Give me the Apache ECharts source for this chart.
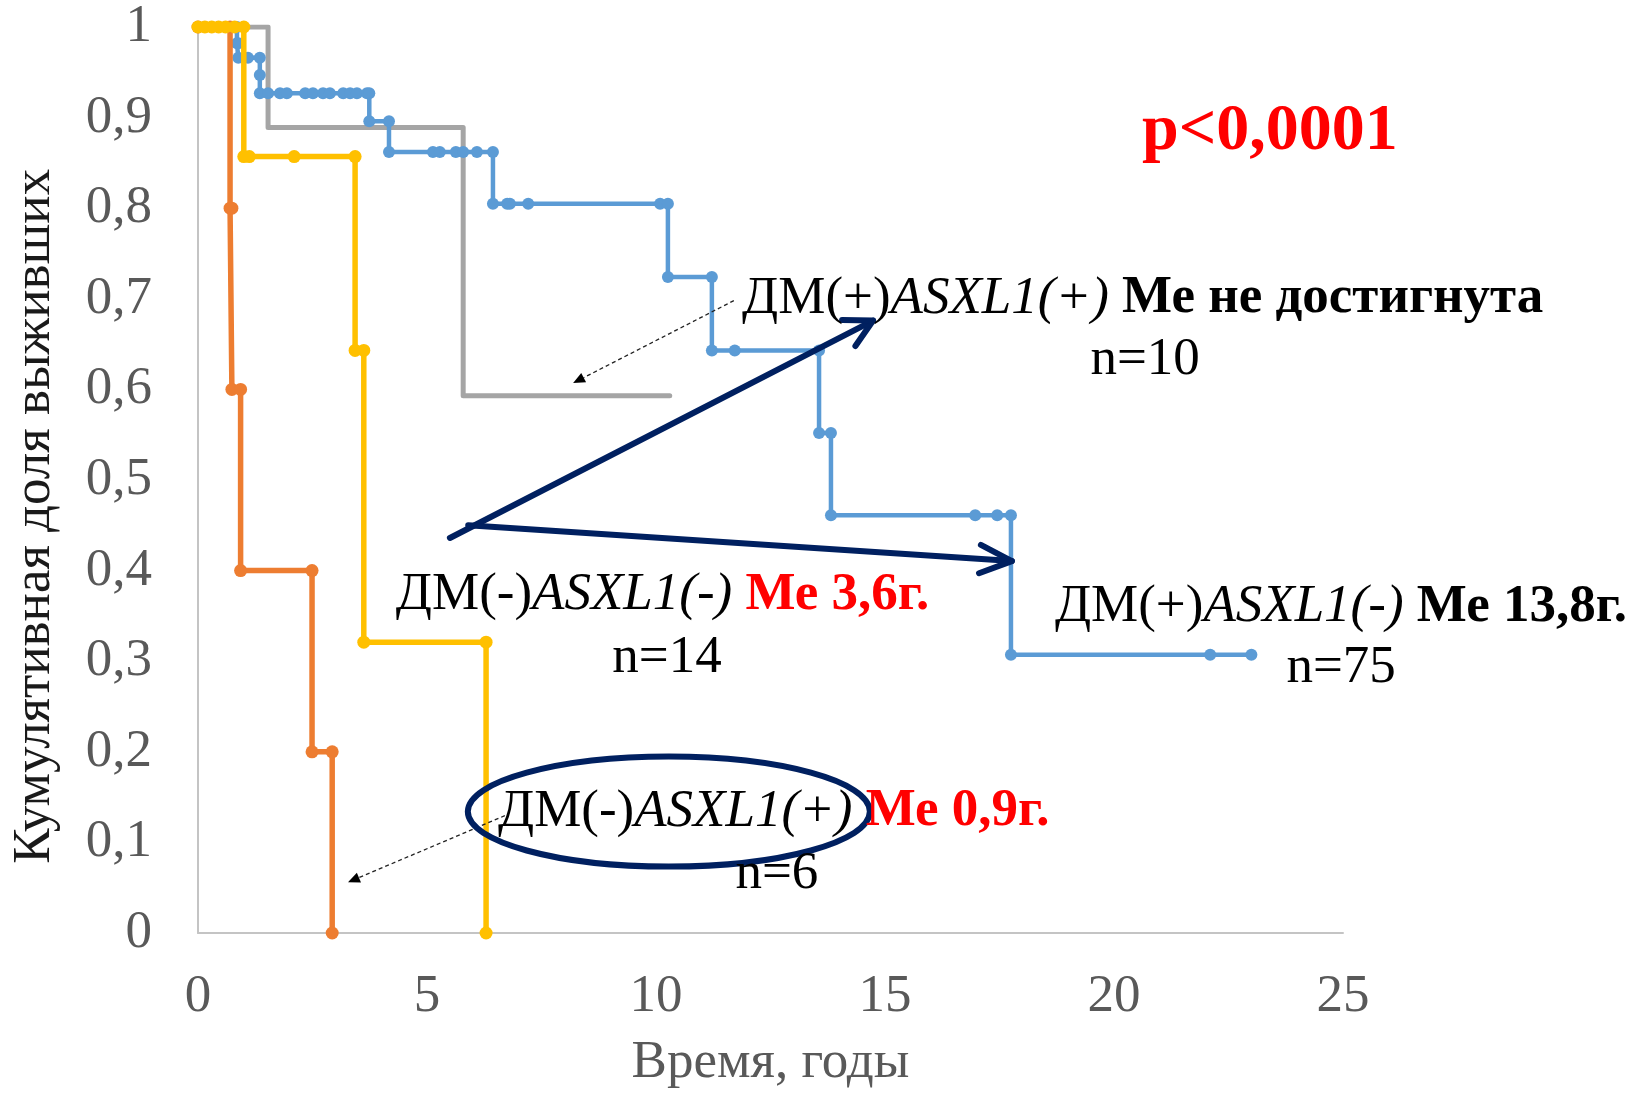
<!DOCTYPE html>
<html>
<head>
<meta charset="utf-8">
<script src="https://cdn.jsdelivr.net/npm/echarts@6/dist/echarts.min.js"></script>
<style>
  html, body { margin: 0; padding: 0; background: #ffffff; }
  #chart { width: 1644px; height: 1095px; }
</style>
</head>
<body>
<div id="chart"></div>
<script>
// Kaplan–Meier step curves: time in years, cumulative survival proportion.
// ДМ(+)ASXL1(+), n=10
const grayT = [0, 1.53, 1.53, 5.79, 5.79, 10.3];
const grayS = [1, 1, 0.889, 0.889, 0.593, 0.593];

// ДМ(+)ASXL1(-), n=75
const blueT = [0, 0.85, 0.85, 0.88, 0.88, 1.09, 1.35, 1.35, 1.35,
  1.53, 1.79, 1.94, 2.34, 2.51, 2.73, 2.88, 3.17, 3.32, 3.47, 3.69, 3.74,
  3.74, 4.17, 4.17, 5.13, 5.28, 5.63, 5.79, 6.09, 6.44,
  6.44, 6.75, 6.81, 7.21, 10.09, 10.26,
  10.26, 11.22, 11.22, 11.72, 13.56, 13.56, 13.82, 13.82, 16.97, 17.45, 17.75,
  17.75, 22.1, 23.0];
const blueS = [1, 1, 0.982, 0.982, 0.966, 0.966, 0.966, 0.947, 0.927,
  0.927, 0.927, 0.927, 0.927, 0.927, 0.927, 0.927, 0.927, 0.927, 0.927, 0.927, 0.927,
  0.896, 0.896, 0.862, 0.862, 0.862, 0.862, 0.862, 0.862, 0.862,
  0.805, 0.805, 0.805, 0.805, 0.805, 0.805,
  0.724, 0.724, 0.643, 0.643, 0.643, 0.552, 0.552, 0.461, 0.461, 0.461, 0.461,
  0.307, 0.307, 0.307];

// ДМ(-)ASXL1(+), n=6
const orangeT = [0, 0.70, 0.70, 0.74, 0.74, 0.93, 0.93, 2.49, 2.49, 2.93, 2.93];
const orangeS = [1, 1, 0.8, 0.8, 0.6, 0.6, 0.4, 0.4, 0.2, 0.2, 0];

// ДМ(-)ASXL1(-), n=14
const yellowT = [0, 0.15, 0.3, 0.45, 0.6, 0.8, 1.0, 1.0, 1.12, 2.1, 3.43, 3.43, 3.62, 3.62, 6.29, 6.29];
const yellowS = [1, 1, 1, 1, 1, 1, 1, 0.857, 0.857, 0.857, 0.857, 0.643, 0.643, 0.321, 0.321, 0];

const yTickLabels = ['0', '0,1', '0,2', '0,3', '0,4', '0,5', '0,6', '0,7', '0,8', '0,9', '1'];
const xTickLabels = ['0', '5', '10', '15', '20', '25'];

const SERIF = '"Liberation Serif", "Times New Roman", serif';
const NAVY = '#002060';
const FS = 53;

const pairs = (t, s) => t.map((v, i) => [v, s[i]]);

const chart = echarts.init(document.getElementById('chart'), null, { renderer: 'canvas' });

function kmSeries(name, t, s, color, width, symSize, z) {
  return {
    name: name,
    type: 'line',
    data: pairs(t, s),
    showAllSymbol: true,
    symbol: symSize ? 'circle' : 'none',
    symbolSize: symSize,
    lineStyle: { color: color, width: width, cap: 'round', join: 'round' },
    itemStyle: { color: color, borderWidth: 0 },
    emphasis: { disabled: true },
    z: z
  };
}

chart.setOption({
  animation: false,
  backgroundColor: '#ffffff',
  grid: { left: 198, top: 27, width: 1145, height: 911 },
  xAxis: {
    type: 'value', min: 0, max: 25, interval: 5,
    axisLine: { show: true, lineStyle: { color: '#C4C4C4', width: 2 } },
    axisTick: { show: false },
    splitLine: { show: false },
    axisLabel: {
      margin: 38, color: '#595959', fontFamily: SERIF, fontSize: FS,
      formatter: v => xTickLabels[Math.round(v / 5)]
    },
    name: 'Время, годы', nameLocation: 'middle', nameGap: 104,
    nameTextStyle: { color: '#595959', fontFamily: SERIF, fontSize: FS }
  },
  yAxis: {
    type: 'value', min: 0, max: 1, interval: 0.1,
    axisLine: { show: true, lineStyle: { color: '#C4C4C4', width: 2 } },
    axisTick: { show: false },
    splitLine: { show: false },
    axisLabel: {
      margin: 46, color: '#595959', fontFamily: SERIF, fontSize: FS,
      formatter: v => yTickLabels[Math.round(v * 10)]
    }
  },
  series: [
    kmSeries('ДМ(+)ASXL1(+)', grayT, grayS, '#A5A5A5', 5, 0, 2),
    kmSeries('ДМ(+)ASXL1(-)', blueT, blueS, '#5B9BD5', 4.5, 12, 3),
    kmSeries('ДМ(-)ASXL1(+)', orangeT, orangeS, '#ED7D31', 5.5, 13, 4),
    kmSeries('ДМ(-)ASXL1(-)', yellowT, yellowS, '#FFC000', 5.5, 13, 5)
  ]
});

// Annotations, anchored in axis units (years, survival)
const px = (x, y) => chart.convertToPixel({ gridIndex: 0 }, [x, y]);

function arrow(from, to, headLen, headAngle) {
  const a = px(from[0], from[1]);
  const b = px(to[0], to[1]);
  const ang = Math.atan2(a[1] - b[1], a[0] - b[0]);
  const r = headAngle * Math.PI / 180;
  const w1 = [b[0] + headLen * Math.cos(ang + r), b[1] + headLen * Math.sin(ang + r)];
  const w2 = [b[0] + headLen * Math.cos(ang - r), b[1] + headLen * Math.sin(ang - r)];
  const st = { stroke: NAVY, lineWidth: 6, lineCap: 'round', lineJoin: 'round', fill: null };
  return [
    { type: 'polyline', shape: { points: [a, b] }, style: st, z: 20 },
    { type: 'polyline', shape: { points: [w1, b, w2] }, style: st, z: 20 }
  ];
}

function leader(from, to) {
  const a = px(from[0], from[1]);
  const b = px(to[0], to[1]);
  const ang = Math.atan2(a[1] - b[1], a[0] - b[0]);
  const L = 13, r = 0.42;
  const w1 = [b[0] + L * Math.cos(ang + r), b[1] + L * Math.sin(ang + r)];
  const w2 = [b[0] + L * Math.cos(ang - r), b[1] + L * Math.sin(ang - r)];
  const base = [b[0] + L * 0.9 * Math.cos(ang), b[1] + L * 0.9 * Math.sin(ang)];
  return [
    { type: 'polyline', shape: { points: [a, base] },
      style: { stroke: '#222', lineWidth: 1.3, lineDash: [4, 3], fill: null }, z: 15 },
    { type: 'polygon', shape: { points: [b, w1, w2] }, style: { fill: '#000' }, z: 15 }
  ];
}

const rich = {
  n: { fontFamily: SERIF, fontSize: FS, fill: '#000000' },
  i: { fontFamily: SERIF, fontSize: FS, fontStyle: 'italic', fill: '#000000' },
  b: { fontFamily: SERIF, fontSize: FS, fontWeight: 'bold', fill: '#000000' },
  r: { fontFamily: SERIF, fontSize: FS, fontWeight: 'bold', fill: '#FF0000' }
};

function label(at, text, align) {
  const p = px(at[0], at[1]);
  return {
    type: 'text', x: p[0], y: p[1], z: 25,
    style: { text: text, rich: rich, align: align || 'left', verticalAlign: 'middle',
      fontFamily: SERIF, fontSize: FS, fill: '#000000' }
  };
}

const ellC = px(10.28, 0.134);
const pPos = px(20.61, 0.884);
const gridRect = chart.getModel().getComponent('grid').coordinateSystem.getRect();

const graphics = [].concat(
  arrow([5.50, 0.436], [14.74, 0.676], 31, 28),
  arrow([5.90, 0.450], [17.77, 0.4105], 35, 24),
  leader([11.70, 0.698], [8.19, 0.607]),
  leader([6.70, 0.1295], [3.275, 0.056]),
  [
    { type: 'ellipse', shape: { cx: ellC[0], cy: ellC[1], rx: 201, ry: 55 },
      style: { fill: null, stroke: NAVY, lineWidth: 6 }, z: 22 },
    label([11.88, 0.700], '{n|ДМ(+)}{i|ASXL1(+)}{b| Ме не достигнута}'),
    label([20.68, 0.632], '{n|n=10}', 'center'),
    label([4.32, 0.373], '{n|ДМ(-)}{i|ASXL1(-)}{r| Ме 3,6г.}'),
    label([10.24, 0.303], '{n|n=14}', 'center'),
    label([18.71, 0.360], '{n|ДМ(+)}{i|ASXL1(-)}{b| Ме 13,8г.}'),
    label([24.96, 0.292], '{n|n=75}', 'center'),
    label([6.55, 0.134], '{n|ДМ(-)}{i|ASXL1(+)}{r| Ме 0,9г.}'),
    label([12.64, 0.0648], '{n|n=6}', 'center'),
    { type: 'text', x: pPos[0], y: pPos[1], z: 25,
      style: { text: 'p<0,0001', fontFamily: SERIF, fontSize: 66, fontWeight: 'bold',
        fill: '#FF0000', align: 'left', verticalAlign: 'middle' } },
    // vertical axis title
    { type: 'text', x: 35, y: gridRect.y + gridRect.height * 0.54, rotation: Math.PI / 2, z: 25,
      style: { text: 'Кумулятивная доля выживших', fontFamily: SERIF, fontSize: FS,
        fill: '#1a1a1a', align: 'center', verticalAlign: 'middle' } }
  ]
);

chart.setOption({ graphic: graphics });
</script>
</body>
</html>
